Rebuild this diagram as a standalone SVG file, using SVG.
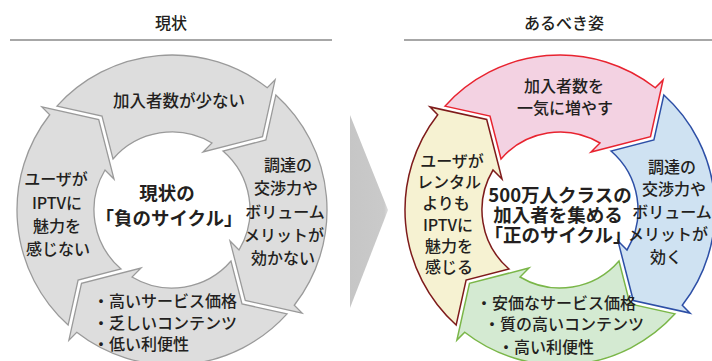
<svg xmlns="http://www.w3.org/2000/svg" xmlns:xlink="http://www.w3.org/1999/xlink" width="712" height="361" viewBox="0 0 712 361">
<style>
text{font-family:"Noto Sans CJK JP","Noto Sans",sans-serif;fill:#231f20;dominant-baseline:central}
.t{font-size:16px;font-weight:500;text-anchor:middle}
.l{font-size:16px;font-weight:500;text-anchor:start}
.b{font-size:18.5px;font-weight:bold;text-anchor:middle}
.h{font-size:16px;font-weight:500;text-anchor:middle}
.gray{fill:#dddddd;stroke:#9a9a9a;stroke-width:1.3}
.pink{fill:#f3d2e2;stroke:#e8232f;stroke-width:1.5}
.blue{fill:#cfe2f2;stroke:#2d4fa6;stroke-width:1.5}
.green{fill:#d4ead2;stroke:#7ab648;stroke-width:1.5}
.yellow{fill:#f6f2d2;stroke:#7e1b1b;stroke-width:1.5}
</style>
<defs>
<path id="arw" d="M -115.05,-103.87 A 155 155 0 0 1 95.27,-122.27 L 103.1,-130.1 L 90.5,-73.3 L 31,-58 L 40,-67 A 78 78 0 0 0 -59,-51 L -70,-93.9 Z"/>
<linearGradient id="chev" x1="0" y1="0" x2="1" y2="0">
<stop offset="0" stop-color="#c6c6c6"/>
<stop offset="0.9" stop-color="#cacaca"/>
<stop offset="1" stop-color="#dedede"/>
</linearGradient>
</defs>
<g id="titles">
<text class="h" x="171" y="22">現状</text>
<line x1="10" y1="40" x2="332" y2="40" stroke="#8a8a8a" stroke-width="1.5"/>
<text class="h" x="564" y="22">あるべき姿</text>
<line x1="404" y1="40" x2="712" y2="40" stroke="#8a8a8a" stroke-width="1.5"/>
</g>
<g id="connectors">
<polygon points="350,115 388,210 350,308" fill="url(#chev)"/>
</g>
<g id="cur-top">
<use xlink:href="#arw" class="gray" transform="translate(172,210)"/>
<text class="t" x="179" y="100" style="font-size:16.5px">加入者数が少ない</text>
</g>
<g id="cur-right">
<use xlink:href="#arw" class="gray" transform="translate(172,210) rotate(90)"/>
<text class="t" x="288" y="164">調達の</text>
<text class="t" x="286" y="187">交渉力や</text>
<text class="t" x="285" y="211">ボリューム</text>
<text class="t" x="284" y="234">メリットが</text>
<text class="t" x="283" y="257">効かない</text>
</g>
<g id="cur-bottom">
<use xlink:href="#arw" class="gray" transform="translate(172,210) rotate(180)"/>
<text class="l" x="93" y="300">・高いサービス価格</text>
<text class="l" x="93" y="322">・乏しいコンテンツ</text>
<text class="l" x="93" y="343">・低い利便性</text>
</g>
<g id="cur-left">
<use xlink:href="#arw" class="gray" transform="translate(172,210) rotate(270)"/>
<text class="t" x="56" y="178">ユーザが</text>
<text class="t" x="57" y="202">IPTVに</text>
<text class="t" x="57" y="225">魅力を</text>
<text class="t" x="58" y="248">感じない</text>
</g>
<g id="cur-center">
<text class="b" x="167" y="192">現状の</text>
<text class="b" x="169" y="217">「負のサイクル」</text>
</g>
<g id="ideal-top">
<use xlink:href="#arw" class="pink" transform="translate(560,210)"/>
<text class="t" x="564" y="85">加入者数を</text>
<text class="t" x="565" y="107">一気に増やす</text>
</g>
<g id="ideal-right">
<use xlink:href="#arw" class="blue" transform="translate(560,210) rotate(90)"/>
<text class="t" x="672" y="166">調達の</text>
<text class="t" x="674" y="188">交渉力や</text>
<text class="t" x="672" y="211">ボリューム</text>
<text class="t" x="668" y="233">メリットが</text>
<text class="t" x="666" y="256">効く</text>
</g>
<g id="ideal-bottom">
<use xlink:href="#arw" class="green" transform="translate(560,210) rotate(180)"/>
<text class="l" x="476" y="302">・安価なサービス価格</text>
<text class="l" x="484" y="323">・質の高いコンテンツ</text>
<text class="l" x="498" y="346">・高い利便性</text>
</g>
<g id="ideal-left">
<use xlink:href="#arw" class="yellow" transform="translate(560,210) rotate(270)"/>
<text class="t" x="452" y="160">ユーザが</text>
<text class="t" x="449" y="181">レンタル</text>
<text class="t" x="446" y="202">よりも</text>
<text class="t" x="448" y="224">IPTVに</text>
<text class="t" x="449" y="245">魅力を</text>
<text class="t" x="449" y="266">感じる</text>
</g>
<g id="ideal-center">
<text class="b" x="560" y="194">500万人クラスの</text>
<text class="b" x="558" y="214">加入者を集める</text>
<text class="b" x="558" y="234">「正のサイクル」</text>
</g>
</svg>
